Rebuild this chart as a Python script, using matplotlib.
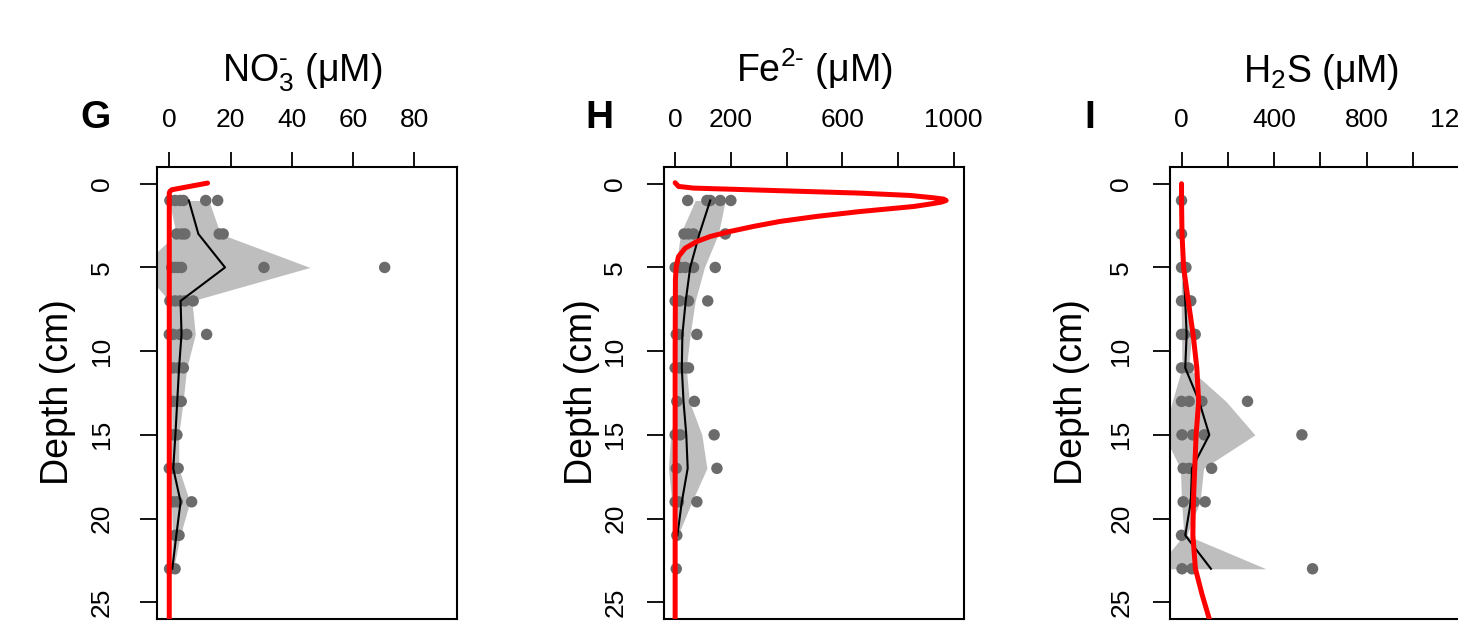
import matplotlib
matplotlib.use("Agg")
import matplotlib.pyplot as plt
import numpy as np

plt.rcParams['font.family'] = ['Liberation Sans', 'DejaVu Sans']
plt.rcParams['mathtext.fontset'] = 'custom'
plt.rcParams['mathtext.rm'] = 'Liberation Sans'
plt.rcParams['mathtext.it'] = 'Liberation Sans:italic'
plt.rcParams['mathtext.bf'] = 'Liberation Sans:bold'

# ---------------- data ----------------
depths = [1, 3, 5, 7, 9, 11, 13, 15, 17, 19, 21, 23]

# NO3- (uM)
no3_points = [[0.2, 1.9, 3.5, 4.6, 11.9, 15.8], [2.4, 4.0, 5.1, 16.3, 17.6],
              [0.8, 1.9, 2.9, 4.0, 30.9, 70.3], [0.2, 1.9, 3.5, 5.1, 7.8],
              [0.0, 1.3, 3.5, 5.7, 12.2], [1.3, 2.9, 4.6], [1.3, 2.9, 3.9],
              [1.3, 2.5], [0.0, 1.3, 2.9], [1.3, 2.6, 7.3], [1.9, 3.2], [0.1, 1.9]]
no3_mean = [6.4, 9.5, 18.2, 3.7, 4.0, 3.2, 2.6, 2.0, 1.3, 3.7, 2.3, 1.0]
no3_sd = [6.5, 7.2, 27.7, 3.7, 4.5, 2.5, 1.9, 1.1, 1.8, 3.0, 1.3, 0.4]
no3_model_depth = [-0.04, 0.36, 0.46, 0.56, 0.8, 5, 27]
no3_model_val = [12.5, 0.8, 0.2, 0.0, 0.0, 0.0, 0.0]

# Fe2- (uM)
fe_points = [[45, 114, 126, 162, 200], [32, 48, 66, 180], [0, 18, 36, 66, 144],
             [0, 16, 48, 117], [4, 12, 78], [0, 16, 36, 48], [6, 69], [0, 18, 140],
             [4, 150], [0, 12, 78], [6], [4]]
fe_mean_depth = [1, 3, 5, 7, 9, 11, 13, 15, 17, 19, 21]
fe_mean = [126, 87, 54, 38, 26, 24, 30, 40, 45, 24, 8]
fe_sd = [54, 68, 51, 34, 28, 16, 21, 56, 69, 36, 2]
fe_model_depth = [-0.06, 0.16, 0.26, 0.32, 0.44, 0.56, 0.70, 0.84, 0.92, 1.0, 1.1,
                  1.2, 1.36, 1.66, 1.95, 2.25, 2.55, 2.85, 3.15, 3.45, 3.85, 4.35,
                  4.95, 5.7, 10, 27]
fe_model_val = [0, 12, 66, 186, 425, 664, 844, 928, 964, 973, 955,
                920, 856, 664, 509, 377, 281, 197, 126, 78, 36, 12,
                4, 1, 0, 0]

# H2S (uM)
h2s_points = [[0], [0], [0, 19], [0, 16, 40], [0, 12, 59], [0, 30], [0, 33, 88, 285],
              [2, 48, 98, 520], [7, 33, 130], [7, 55, 102], [0], [2, 45, 566]]
h2s_mean = [0, 0, 8, 16, 22, 16, 76, 120, 45, 40, 16, 127]
h2s_sd = [0, 0, 8, 18, 22, 14, 116, 197, 50, 40, 6, 238]
h2s_model_depth = [0, 1, 3, 5, 7, 9, 11, 13, 15, 17, 19, 21, 23, 24.5, 26, 27]
h2s_model_val = [0, 0, 2, 9, 29, 50, 66, 74, 63, 57, 51, 49, 60, 88, 120, 140]

# ---------------- layout ----------------
W, H = 1458, 623
fig = plt.figure(figsize=(W / 100, H / 100), dpi=100)

def px_ax(left, width=300, top=167, bottom=619):
    return fig.add_axes([left / W, 1 - bottom / H, width / W, (bottom - top) / H])

def fx(x):
    return x / W

def fy(y):
    return 1 - y / H

PT_COL = '#6b6b6b'
BAND_COL = '#bebebe'

panels = [
    dict(left=157, xlim=(-4.0, 93.9), xticks=[0, 20, 40, 60, 80],
         xlabels=['0', '20', '40', '60', '80'], ypad=19,
         pts=no3_points, mdep=depths, mean=no3_mean, sd=no3_sd,
         modd=no3_model_depth, modv=no3_model_val,
         title=r'NO$_3^{\text{-}}$ (μM)', tx=301.7, letter='G', lx=95, dx=57.5),
    dict(left=664, xlim=(-40, 1037), xticks=[0, 200, 400, 600, 800, 1000],
         xlabels=['0', '200', '', '600', '', '1000'], ypad=14.4,
         pts=fe_points, mdep=fe_mean_depth, mean=fe_mean, sd=fe_sd,
         modd=fe_model_depth, modv=fe_model_val,
         title=r'Fe$^{2\text{-}}$ (μM)', tx=814, letter='H', lx=599.5, dx=581.5),
    dict(left=1169.5, xlim=(-52, 1244), xticks=[0, 200, 400, 600, 800, 1000, 1200],
         xlabels=['0', '', '400', '', '800', '', '1200'], ypad=14,
         pts=h2s_points, mdep=depths, mean=h2s_mean, sd=h2s_sd,
         modd=h2s_model_depth, modv=h2s_model_val,
         title=r'H$_2$S (μM)', tx=1321, letter='I', lx=1090, dx=1071.5),
]

for p in panels:
    ax = px_ax(p['left'])
    mean = np.array(p['mean'], float)
    sd = np.array(p['sd'], float)
    ax.fill_betweenx(p['mdep'], mean - sd, mean + sd, color=BAND_COL, lw=0, zorder=1)
    xs, ys = [], []
    for d, vals in zip(depths, p['pts']):
        for v in vals:
            xs.append(v)
            ys.append(d)
    ax.scatter(xs, ys, s=68, color=PT_COL, edgecolors='none', zorder=2)
    ax.plot(mean, p['mdep'], color='black', lw=1.5, zorder=3)
    ax.plot(p['modv'], p['modd'], color='#ff0000', lw=3.6, zorder=4,
            solid_capstyle='round', solid_joinstyle='round')

    ax.set_xlim(*p['xlim'])
    ax.set_ylim(26, -1)
    ax.xaxis.tick_top()
    ax.set_xticks(p['xticks'])
    ax.set_xticklabels(p['xlabels'])
    ax.set_yticks([0, 5, 10, 15, 20, 25])
    ax.set_yticklabels(['0', '5', '10', '15', '20', '25'], rotation=90, va='center')
    ax.tick_params(axis='x', direction='out', length=10.5, width=1.3, pad=14.7,
                   labelsize=19, top=True, bottom=False)
    ax.tick_params(axis='y', direction='out', length=12, width=1.3, pad=p['ypad'],
                   labelsize=19)
    for s in ax.spines.values():
        s.set_linewidth(1.5)

    fig.text(fx(p['tx']), fy(81.7), p['title'], ha='center', va='baseline', fontsize=27)
    fig.text(fx(p['lx']), fy(127.5), p['letter'], ha='center', va='baseline',
             fontsize=28, fontweight='bold')
    fig.text(fx(p['dx']), fy(392), 'Depth (cm)', ha='center', va='center',
             rotation=90, fontsize=27)

fig.savefig('out.png', dpi=100)
